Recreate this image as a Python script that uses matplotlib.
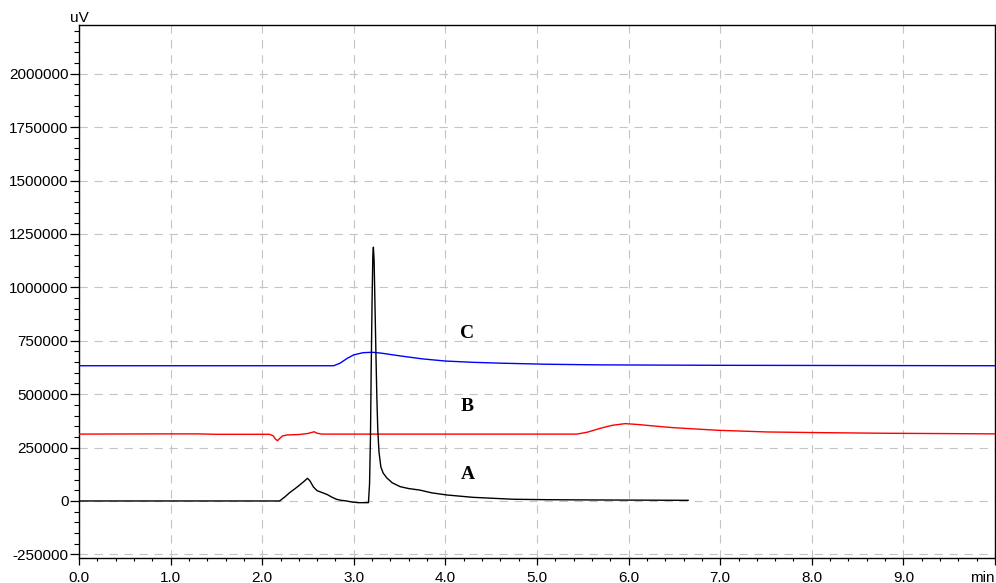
import numpy as np
import matplotlib
matplotlib.use("Agg")
import matplotlib.pyplot as plt
from matplotlib.ticker import MultipleLocator, FuncFormatter

# chromatogram traces, time in min, signal in uV
time_a = [0.0, 2.19, 2.25, 2.30, 2.36, 2.41, 2.46, 2.494, 2.52, 2.56, 2.60, 2.65,
          2.71, 2.76, 2.81, 2.86, 2.92, 2.98, 3.05, 3.10, 3.16, 3.172, 3.182, 3.19,
          3.20, 3.208, 3.214, 3.222, 3.232, 3.242, 3.252, 3.262, 3.275, 3.295, 3.32,
          3.36, 3.42, 3.506, 3.60, 3.72, 3.85, 4.016, 4.3, 4.74, 5.1, 5.47, 6.0, 6.65]
signal_a = [0, 0, 20000, 39000, 58000, 75000, 93000, 106000, 95000, 65000, 48000, 40000,
            30000, 18000, 8000, 3000, 0, -5000, -8000, -8000, -8000, 80000, 300000, 620000,
            950000, 1150000, 1188000, 1120000, 900000, 680000, 480000, 330000, 230000, 160000, 131000,
            108000, 85000, 67000, 58000, 51000, 38000, 28000, 17000, 8000, 6000, 5000, 4000, 3000]

time_b = [0.0, 0.9, 1.3, 1.5, 2.08, 2.12, 2.145, 2.166, 2.19, 2.22, 2.27, 2.4, 2.5,
          2.567, 2.6, 2.65, 5.435, 5.55, 5.69, 5.82, 5.963, 6.1, 6.3, 6.49, 6.965,
          7.51, 8.06, 8.78, 10.0]
signal_b = [313000, 314000, 314000, 312000, 312000, 305000, 290000, 282000, 292000, 304000,
            309000, 311000, 316000, 324000, 317000, 313000, 313000, 322000, 340000, 354000,
            362000, 358000, 350000, 343000, 331000, 323000, 320000, 317000, 314000]

time_c = [0.0, 2.78, 2.85, 2.93, 3.0, 3.1, 3.2, 3.3, 3.506, 3.75, 4.0, 4.3, 4.6,
          5.1, 5.69, 7.0, 10.0]
signal_c = [633000, 633000, 645000, 668000, 684000, 694000, 696000, 692000, 679000,
            665000, 655000, 649000, 645000, 640000, 637000, 635000, 633000]

trace_labels = ["A", "B", "C"]
label_time = [4.24, 4.24, 4.24]
label_signal = [125000, 440000, 782000]

plt.rcParams['font.family'] = ['Liberation Sans', 'DejaVu Sans']

fig = plt.figure(figsize=(9.96, 5.83), dpi=100)
ax = fig.add_axes([79 / 996, 1 - 558 / 583, 916 / 996, 533 / 583])

ax.plot(time_c, signal_c, color="#0000ff", lw=1.0, zorder=3)
ax.plot(time_b, signal_b, color="#ff0000", lw=1.0, zorder=3)
ax.plot(time_a, signal_a, color="black", lw=1.0, zorder=4)

for lab, tx, ty in zip(trace_labels, label_time, label_signal):
    ax.text(tx, ty, lab, family="Liberation Serif", fontweight="bold",
            fontsize=14, ha="center", va="center")

ax.set_xlim(0, 10.0)
ax.set_ylim(-267000, 2228000)

ax.xaxis.set_major_locator(MultipleLocator(1.0))
ax.xaxis.set_minor_locator(MultipleLocator(0.2))
ax.yaxis.set_major_locator(MultipleLocator(250000))
ax.yaxis.set_minor_locator(MultipleLocator(50000))

ax.xaxis.set_major_formatter(FuncFormatter(lambda v, p: "min" if v > 9.5 else f"{v:.1f}"))
ax.yaxis.set_major_formatter(FuncFormatter(lambda v, p: f"{v:.0f}" if v <= 2100000 else ""))

ax.tick_params(axis="x", which="major", length=5, width=0.9, labelsize=11, pad=4)
ax.tick_params(axis="x", which="minor", length=2.5, width=0.8)
ax.tick_params(axis="y", which="major", length=6.5, width=0.9, labelsize=11, pad=1)
ax.tick_params(axis="y", which="minor", length=3.5, width=0.8)

for lbl in ax.get_xticklabels():
    if lbl.get_text() == "min":
        lbl.set_horizontalalignment("right")

ax.grid(True, which="major", color="#c4c4c4", lw=0.8, linestyle=(0, (7.5, 6)), zorder=0)
ax.set_axisbelow(True)

for sp in ax.spines.values():
    sp.set_linewidth(1.0)
    sp.set_color("black")

fig.text(79 / 996, 1 - 18 / 583, "uV", fontsize=11, ha="center", va="center")

fig.canvas.draw()
for lbl in ax.get_xticklabels():
    if lbl.get_text() == "min":
        lbl.set_horizontalalignment("right")

fig.savefig("out.png", dpi=100)
